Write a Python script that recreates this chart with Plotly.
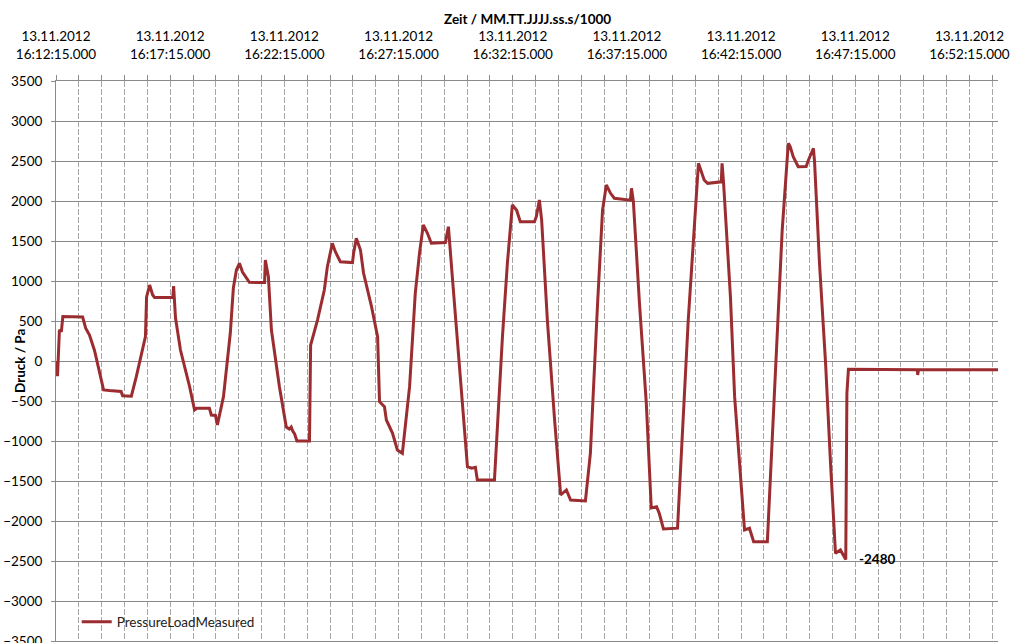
import pandas as pd
import plotly.graph_objects as go

# Measurement start time of the record
start = pd.Timestamp("2012-11-13 16:12:15")

# Seconds since start and measured pressure load (Pa)
elapsed_s = [
    3, 4, 9, 14, 18, 70, 78, 88, 101, 125, 140, 150, 171, 175, 198,
    211, 235, 238, 246, 254, 259, 307, 309, 314, 327, 351, 364, 370, 403,
    408, 419, 424, 427, 440, 458, 466, 474, 482, 490, 508, 548, 550, 558,
    566, 587, 605, 613, 618, 622, 627, 633, 666,
    669, 687, 705, 713, 726, 734, 747, 779, 782, 789, 800, 808, 829, 845,
    850, 863, 868, 884, 897, 910, 929, 944, 955, 965, 976, 986, 1023,
    1031, 1042, 1060, 1081, 1092, 1102, 1107, 1152, 1173, 1186, 1199,
    1210, 1220, 1257, 1262, 1270, 1276, 1291, 1310, 1326, 1341, 1352,
    1391, 1404, 1423, 1436, 1446, 1457, 1467, 1509, 1512, 1517, 1533,
    1551, 1564, 1578, 1585, 1596, 1633, 1661, 1688, 1703, 1712, 1748,
    1750, 1754, 1772, 1783, 1796, 1809, 1822, 1833, 1869, 1887, 1908,
    1924, 1929, 1937, 1950, 1971, 1977, 1990, 1993, 2006, 2022, 2035,
    2048, 2061, 2069, 2075, 2078, 2082, 2263, 2264, 2266, 2475,
]
pressure_pa = [
    0, -190, 390, 365, 555, 550, 410, 325, 135, -362, -370, -375, -380, -434, -440,
    -196, 304, 800, 950, 825, 795, 795, 937, 537, 137, -320, -612, -590, -590,
    -675, -680, -800, -740, -446, 350, 912, 1137, 1221, 1112, 983, 980, 1262, 1054,
    387, -321, -825, -850, -825, -875, -912, -1000, -1000,
    200, 512, 887, 1179, 1471, 1366, 1241, 1230, 1350, 1533, 1387, 1100, 679, 304,
    -509, -571, -737, -900, -1112, -1154, -321, 850, 1346, 1700, 1596, 1471, 1480,
    1679, 1012, -112, -1321, -1340, -1330, -1487, -1487, 304, 1225, 1950,
    1887, 1741, 1740, 1804, 2012, 1762, 512, -737, -1675, -1612, -1737,
    -1750, -1154, 725, 1887, 2200, 2096, 2034, 2010, 2159, 1991, 721,
    -529, -1837, -1821, -1904, -2100, -2090, 500, 2471, 2262, 2221, 2240,
    2471, 2225, 804, -446, -1279, -2112, -2091, -2259, -2260, -446, 1637,
    2721, 2679, 2554, 2429, 2430, 2512, 2659, 2491, 1221, -29, -1279,
    -2404, -2362, -2425, -2480, -404, -104, -110, -175, -110, -110,
]

# Labelled time ticks (minutes after start) and their texts
tick_minutes = [0, 5, 10, 15, 20, 25, 30, 35, 40]
tick_labels = [
    "13.11.2012<br>16:12:15.000",
    "13.11.2012<br>16:17:15.000",
    "13.11.2012<br>16:22:15.000",
    "13.11.2012<br>16:27:15.000",
    "13.11.2012<br>16:32:15.000",
    "13.11.2012<br>16:37:15.000",
    "13.11.2012<br>16:42:15.000",
    "13.11.2012<br>16:47:15.000",
    "13.11.2012<br>16:52:15.000",
]
end_s = 2475

times = [start + pd.Timedelta(seconds=s) for s in elapsed_s]
tick_times = [start + pd.Timedelta(minutes=m) for m in tick_minutes]

LINE = "#9B2D30"
GRID_H = "#8a8a8a"
GRID_V = "#a8a8a8"
FONT = "Lato"
FS = 13.5
PLOT_W = 1015 - 56 - 17

fig = go.Figure()
fig.add_trace(go.Scatter(
    x=times, y=pressure_pa, mode="lines", name="PressureLoadMeasured",
    line=dict(color=LINE, width=3),
))

# Label the deepest value of the run
min_i = pressure_pa.index(min(pressure_pa))
fig.add_annotation(
    x=times[min_i], y=pressure_pa[min_i], text="<b>%d</b>" % pressure_pa[min_i],
    showarrow=False, xanchor="left", yanchor="middle", xshift=11,
    font=dict(family=FONT, size=FS, color="#000"),
)

# Axis titles
fig.add_annotation(
    xref="paper", yref="paper", x=0.5, y=1, yshift=62,
    text="<b>Zeit / MM.TT.JJJJ.ss.s/1000</b>", showarrow=False,
    xanchor="center", yanchor="middle",
    font=dict(family=FONT, size=FS, color="#000"),
)
fig.add_annotation(
    xref="paper", yref="paper", x=(20 - 56) / PLOT_W, y=0.5,
    text="<b>Druck / Pa</b>", showarrow=False, textangle=-90,
    xanchor="center", yanchor="middle",
    font=dict(family=FONT, size=FS, color="#000"),
)

fig.update_layout(
    width=1015, height=643,
    margin=dict(l=56, r=17, t=81, b=2),
    paper_bgcolor="white", plot_bgcolor="white",
    font=dict(family=FONT, size=FS, color="#000"),
    showlegend=True,
    legend=dict(
        x=0.022, y=0.034, xanchor="left", yanchor="middle",
        bgcolor="rgba(0,0,0,0)", font=dict(family=FONT, size=FS, color="#222"),
    ),
    xaxis=dict(
        type="date", side="top", automargin=False,
        range=[start, start + pd.Timedelta(seconds=end_s)],
        tickmode="array", tickvals=tick_times, ticktext=tick_labels,
        showgrid=True, gridcolor=GRID_V, griddash="6px,2px", gridwidth=1,
        ticks="outside", ticklen=5, tickcolor=GRID_H,
        minor=dict(
            tick0=start, dtick=60000, showgrid=True, gridcolor=GRID_V,
            griddash="6px,2px", gridwidth=1, ticks="outside", ticklen=5,
            tickcolor=GRID_H,
        ),
        showline=True, linecolor=GRID_H, linewidth=1, mirror=True,
        zeroline=False, ticklabelstandoff=11,
    ),
    yaxis=dict(
        range=[-3500, 3500], tick0=0, dtick=500, automargin=False,
        showgrid=True, gridcolor=GRID_H, gridwidth=1,
        ticks="outside", ticklen=4, tickcolor=GRID_H,
        showline=True, linecolor=GRID_H, linewidth=1,
        zeroline=False, ticklabelstandoff=6, ticklabeloverflow="allow",
    ),
)

fig.write_html("out.html")
